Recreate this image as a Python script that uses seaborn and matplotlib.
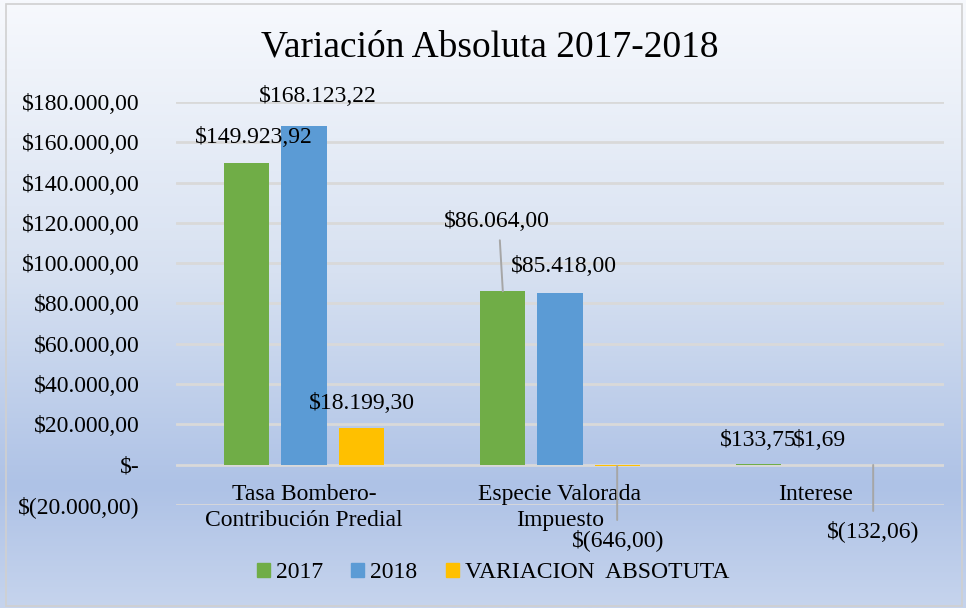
import numpy as np
import pandas as pd
import matplotlib
matplotlib.use("Agg")
import matplotlib.pyplot as plt
from matplotlib.patches import Rectangle
from matplotlib.colors import LinearSegmentedColormap
import seaborn as sns

# ---- data ----
categories = ["Tasa Bombero-\nContribución Predial", "Especie Valorada\nImpuesto", "Interese"]
series_names = ["2017", "2018", "VARIACION  ABSOTUTA"]
values_2017 = [149923.92, 86064.00, 133.75]
values_2018 = [168123.22, 85418.00, 1.69]
values_var = [18199.30, -646.00, -132.06]
label_texts = [
    ["$149.923,92", "$86.064,00", "$133,75"],
    ["$168.123,22", "$85.418,00", "$1,69"],
    ["$18.199,30", "$(646,00)", "$(132,06)"],
]
y_ticks = [-20000, 0, 20000, 40000, 60000, 80000, 100000, 120000, 140000, 160000, 180000]
y_tick_labels = ["$(20.000,00)", "$-", "$20.000,00", "$40.000,00", "$60.000,00", "$80.000,00",
                 "$100.000,00", "$120.000,00", "$140.000,00", "$160.000,00", "$180.000,00"]
colors = ["#70AD47", "#5B9BD5", "#FFC000"]

df = pd.DataFrame({
    "categoria": categories * 3,
    "serie": [s for s in series_names for _ in categories],
    "valor": values_2017 + values_2018 + values_var,
})

sns.set_theme(style="white")
plt.rcParams["font.family"] = ["Liberation Serif", "DejaVu Serif"]
plt.rcParams["text.color"] = "black"
plt.rcParams["ytick.color"] = "black"

W, H = 966, 608
fig = plt.figure(figsize=(W / 100, H / 100), dpi=100)

# gradient background
bg = fig.add_axes([0, 0, 1, 1], zorder=-10)
cmap = LinearSegmentedColormap.from_list("bg", [
    (0.0, (247/255, 249/255, 253/255)),
    (0.45, (215/255, 225/255, 241/255)),
    (0.80, (174/255, 194/255, 230/255)),
    (1.0, (198/255, 212/255, 237/255)),
])
grad = np.linspace(0, 1, 256).reshape(-1, 1)
bg.imshow(grad, aspect="auto", cmap=cmap, extent=[0, 1, 0, 1], origin="upper")
bg.set_xlim(0, 1); bg.set_ylim(0, 1)
bg.axis("off")
bg.add_patch(Rectangle((6 / W, 2 / H), 956 / W, 602 / H, fill=False,
                       edgecolor="#D0D0D0", linewidth=1.2))

ax = fig.add_axes([176 / W, 1 - 505 / H, 768 / W, 403 / H])
ax.patch.set_alpha(0)
sns.barplot(data=df, x="categoria", y="valor", hue="serie", hue_order=series_names,
            order=categories, palette=colors, width=0.67, gap=0.21, ax=ax,
            saturation=1, legend=True, zorder=3, linewidth=0, edgecolor="none")

ax.set_ylim(-20000, 180000)
ax.set_xlim(-0.5, 2.5)
ax.set_yticks(y_ticks)
ax.set_yticklabels(y_tick_labels, fontsize=17, color="black")
ax.yaxis.grid(True, color="#D9D9D9", linewidth=2, zorder=0)
ax.set_axisbelow(True)
ax.set_xticks([])
ax.set_xlabel("")
ax.set_ylabel("")
ax.tick_params(axis="y", length=0, pad=26)
for s in ax.spines.values():
    s.set_visible(False)

# category labels placed at the zero line
for i, c in enumerate(categories):
    ax.annotate(c, xy=(i, 0), xytext=(0, -19), textcoords="offset pixels",
                ha="center", va="top", fontsize=17, linespacing=1.35, color="black")

# data labels (offsets in pixels, leader flag)
offsets = [
    [(7, -25, False), (-6, -70, True), (-1, -24, False)],
    [(14, -29, False), (4, -26, False), (3, -24, False)],
    [(1, -25, False), (1, 74, True), (0, 66, True)],
]
for si, cont in enumerate(ax.containers):
    for ci, p in enumerate(cont):
        xc = p.get_x() + p.get_width() / 2
        yv = p.get_y() + p.get_height()
        dx, dy, lead = offsets[si][ci]
        ax.annotate(label_texts[si][ci], xy=(xc, yv),
                    xytext=(dx, -dy), textcoords="offset pixels",
                    ha="center", va="center", fontsize=17, zorder=5, color="black")
        if lead:
            if dy < 0:
                ax.annotate("", xy=(xc, yv), xytext=(dx + 3, -dy - 19),
                            textcoords="offset pixels",
                            arrowprops=dict(arrowstyle="-", color="#A6A6A6", lw=1.4,
                                            shrinkA=0, shrinkB=0))
            else:
                ax.annotate("", xy=(xc, yv), xytext=(0, -dy + 20),
                            textcoords="offset pixels",
                            arrowprops=dict(arrowstyle="-", color="#A6A6A6", lw=1.4,
                                            shrinkA=0, shrinkB=0))

ax.get_legend().remove()
handles = [Rectangle((0, 0), 1, 1, color=c) for c in colors]
fig.legend(handles, series_names, loc="center", bbox_to_anchor=(493 / W, 1 - 573 / H),
           ncol=3, frameon=False, fontsize=17, handlelength=0.55, handleheight=0.55,
           handletextpad=0.25, columnspacing=1.2)

fig.text(490 / W, 1 - 47 / H, "Variación Absoluta 2017-2018", ha="center", va="center",
         fontsize=27, color="black")

fig.savefig("out.png", dpi=100)
